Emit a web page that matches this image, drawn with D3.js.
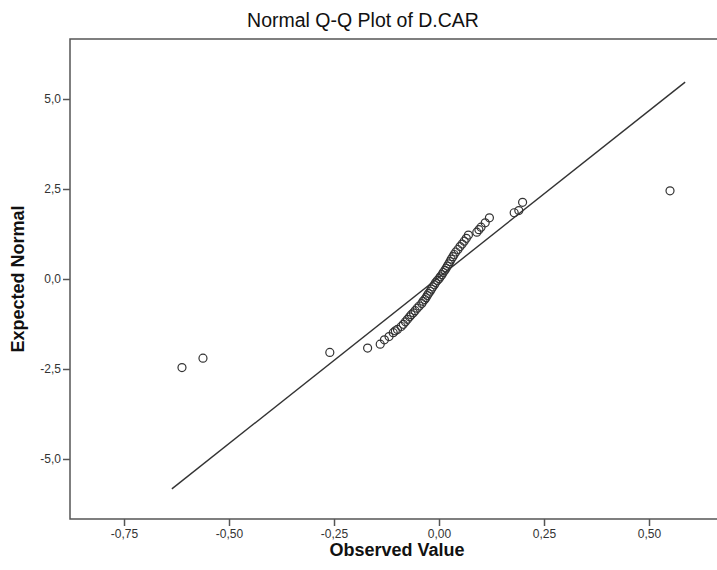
<!DOCTYPE html>
<html>
<head>
<meta charset="utf-8">
<script src="https://cdn.jsdelivr.net/npm/d3@7"></script>
<style>
  body { margin: 0; background: #fff; }
  svg { display: block; font-family: "Liberation Sans", Arial, sans-serif; }
</style>
</head>
<body>
<svg id="chart" width="717" height="570"></svg>
<script>
// observed D.CAR values and their expected normal scores
var observed = [
    -0.612, -0.562, -0.260, -0.170,
    -0.140, -0.130, -0.119, -0.109, -0.104, -0.099, -0.090, -0.085, -0.080, -0.075,
    -0.070, -0.066, -0.061, -0.057, -0.052, -0.047, -0.041, -0.038, -0.034, -0.031,
    -0.028, -0.025, -0.021, -0.018, -0.015, -0.011, -0.008, -0.004, 0.000, 0.003,
    0.007, 0.010, 0.014, 0.017, 0.020, 0.023, 0.026, 0.029, 0.033, 0.036,
    0.040, 0.045, 0.050, 0.055, 0.060, 0.065, 0.070, 0.090, 0.095, 0.100,
    0.110, 0.120,
    0.179, 0.190, 0.199, 0.550
];
var expected = [
    -2.46, -2.20, -2.04, -1.92,
    -1.81, -1.69, -1.60, -1.49, -1.44, -1.40, -1.32, -1.26, -1.19, -1.12,
    -1.05, -0.99, -0.94, -0.88, -0.81, -0.75, -0.68, -0.62, -0.57, -0.52,
    -0.46, -0.40, -0.34, -0.28, -0.22, -0.16, -0.10, -0.04, 0.01, 0.06,
    0.12, 0.18, 0.24, 0.30, 0.36, 0.42, 0.48, 0.55, 0.62, 0.68,
    0.75, 0.82, 0.90, 0.97, 1.05, 1.13, 1.22, 1.30, 1.37, 1.44,
    1.56, 1.70,
    1.84, 1.90, 2.13, 2.45
];

// reference line ends
var refLineX = [-0.636, 0.586];
var refLineY = [-5.83, 5.47];

var xTickValues = [-0.75, -0.50, -0.25, 0.00, 0.25, 0.50];
var xTickLabels = ['-0,75', '-0,50', '-0,25', '0,00', '0,25', '0,50'];
var yTickValues = [-5.0, -2.5, 0.0, 2.5, 5.0];
var yTickLabels = ['-5,0', '-2,5', '0,0', '2,5', '5,0'];

var svg = d3.select('#chart');

var plotLeft = 70, plotRight = 716, plotTop = 39, plotBottom = 519;

var x = d3.scaleLinear([-0.8786, 0.6595], [plotLeft, plotRight]);
var y = d3.scaleLinear([-6.667, 6.667], [plotBottom, plotTop]);

// plot frame (right edge falls off the picture)
svg.append('path')
    .attr('d', 'M' + (plotRight + 5) + ',' + plotTop + 'H' + plotLeft + 'V' + plotBottom + 'H' + (plotRight + 5))
    .attr('fill', 'none')
    .attr('stroke', '#555')
    .attr('stroke-width', 1.5);

var xAxis = d3.axisBottom(x)
    .tickValues(xTickValues)
    .tickFormat(function(d, i) { return xTickLabels[i]; })
    .tickSizeOuter(0)
    .tickSize(7)
    .tickPadding(3);
var gx = svg.append('g').attr('transform', 'translate(0,' + plotBottom + ')').call(xAxis);

var yAxis = d3.axisLeft(y)
    .tickValues(yTickValues)
    .tickFormat(function(d, i) { return yTickLabels[i]; })
    .tickSizeOuter(0)
    .tickSize(7)
    .tickPadding(2);
var gy = svg.append('g').attr('transform', 'translate(' + plotLeft + ',0)').call(yAxis);

[gx, gy].forEach(function(g) {
    g.select('.domain').remove();
    g.selectAll('.tick line').attr('stroke', '#555').attr('stroke-width', 1.5);
    g.selectAll('.tick text')
        .attr('fill', '#333')
        .style('font-size', '12px')
        .style('font-family', '"Liberation Sans", Arial, sans-serif');
});

// reference line
svg.append('line')
    .attr('x1', x(refLineX[0]))
    .attr('y1', y(refLineY[0]))
    .attr('x2', x(refLineX[1]))
    .attr('y2', y(refLineY[1]))
    .attr('stroke', '#333')
    .attr('stroke-width', 1.4);

svg.append('g').selectAll('circle')
    .data(observed)
    .join('circle')
    .attr('cx', function(d) { return x(d); })
    .attr('cy', function(d, i) { return y(expected[i]); })
    .attr('r', 4)
    .attr('fill', 'none')
    .attr('stroke', '#333')
    .attr('stroke-width', 1.2);

// titles
svg.append('text')
    .attr('x', 363)
    .attr('y', 27)
    .attr('text-anchor', 'middle')
    .style('font-size', '19.5px')
    .attr('fill', '#111')
    .text('Normal Q-Q Plot of D.CAR');

svg.append('text')
    .attr('x', 397)
    .attr('y', 556)
    .attr('text-anchor', 'middle')
    .style('font-size', '18px')
    .style('font-weight', 'bold')
    .attr('fill', '#111')
    .text('Observed Value');

svg.append('text')
    .attr('transform', 'translate(24,' + ((plotTop + plotBottom) / 2) + ') rotate(-90)')
    .attr('text-anchor', 'middle')
    .style('font-size', '18px')
    .style('font-weight', 'bold')
    .attr('fill', '#111')
    .text('Expected Normal');
</script>
</body>
</html>
